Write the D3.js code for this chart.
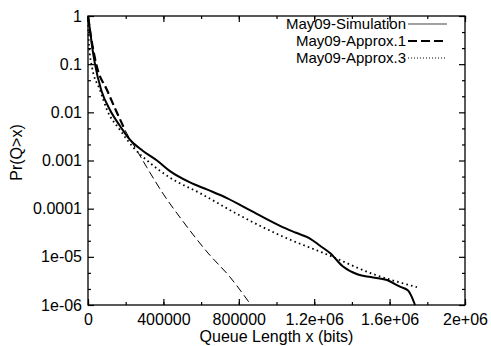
<!DOCTYPE html>
<html><head><meta charset="utf-8">
<script src="https://cdn.jsdelivr.net/npm/d3@7"></script>
<style>
body{margin:0;background:#fff;}
text{font-family:"Liberation Sans",Arial,sans-serif;fill:#000;}
</style></head>
<body><svg id="c" width="491" height="346"></svg>
<script>
// ---- data ----
const xTicks = [0, 400000, 800000, 1200000, 1600000, 2000000];
const xTickLabels = ["0", "400000", "800000", "1.2e+06", "1.6e+06", "2e+06"];
const yTicks = [1, 0.1, 0.01, 0.001, 0.0001, 1e-5, 1e-6];
const yTickLabels = ["1", "0.1", "0.01", "0.001", "0.0001", "1e-05", "1e-06"];
const seriesNames = ["May09-Simulation", "May09-Approx.1", "May09-Approx.3"];

const simX = [0, 5000, 10600, 22000, 37100, 70000, 116700, 170000, 222800, 290000, 366000, 435000, 541000, 637000, 737000, 859000, 1018600, 1100000, 1177700, 1230800, 1283800, 1352800, 1432000, 1500000, 1586000, 1655000, 1698000, 1735000];
const simP = [1, 0.76, 0.51, 0.23, 0.1, 0.029, 0.0112, 0.0052, 0.0027, 0.0016, 0.001, 6.0e-4, 3.5e-4, 2.45e-4, 1.66e-4, 9.3e-5, 4.4e-5, 3.2e-5, 2.4e-5, 1.7e-5, 1.2e-5, 6.3e-6, 4.3e-6, 3.8e-6, 3.3e-6, 2.4e-6, 2.0e-6, 1.0e-6];

const ap1X = [0, 21200, 47700, 100800, 153800, 196300, 260000, 313000, 400000, 498700, 636600, 753300, 864700];
const ap1P = [0.95, 0.275, 0.087, 0.029, 0.0098, 0.0043, 0.0016, 7.1e-4, 2.0e-4, 5.8e-5, 1.2e-5, 3.8e-6, 1.0e-6];

const ap3X = [0, 5300, 21200, 63700, 100800, 169800, 238700, 329000, 435000, 594000, 806000, 1018600, 1273000, 1512000, 1745000];
const ap3P = [0.83, 0.25, 0.087, 0.029, 0.0112, 0.0043, 0.0019, 8.9e-4, 4.4e-4, 2.1e-4, 7.2e-5, 2.8e-5, 1.1e-5, 4.4e-6, 2.35e-6];

// ---- layout ----
const L = 88, R = 465, T = 16, B = 305;
const svg = d3.select("#c");
const x = d3.scaleLinear().domain([0, 2000000]).range([L, R]);
const y = d3.scaleLog().domain([1e-6, 1]).range([B, T]);

const zip = (xs, ps) => xs.map((v, i) => ({x: v, p: ps[i]}));
const line = d3.line().x(d => x(d.x)).y(d => y(d.p)).curve(d3.curveMonotoneX);

// frame
svg.append("rect").attr("x", L).attr("y", T).attr("width", R - L).attr("height", B - T)
  .attr("fill", "none").attr("stroke", "#000").attr("stroke-width", 1.3);

// ticks via axes (inward, mirrored)
const xMinor = d3.range(0, 2000001, 200000);
const fmtX = (d) => xTickLabels[xTicks.indexOf(d)];
svg.append("g").attr("transform", `translate(0,${B})`)
  .call(d3.axisBottom(x).tickValues(xMinor).tickSizeInner(-3).tickSizeOuter(0).tickFormat(""))
  .call(g => g.select(".domain").remove());
svg.append("g").attr("transform", `translate(0,${B})`)
  .call(d3.axisBottom(x).tickValues(xTicks).tickSizeInner(-6).tickSizeOuter(0).tickPadding(9).tickFormat(fmtX))
  .call(g => g.select(".domain").remove())
  .call(g => g.selectAll("text").attr("font-size", 16).attr("fill", "#000"));
svg.append("g").attr("transform", `translate(0,${T})`)
  .call(d3.axisTop(x).tickValues(xMinor).tickSizeInner(-3).tickSizeOuter(0).tickFormat(""))
  .call(g => g.select(".domain").remove());
svg.append("g").attr("transform", `translate(0,${T})`)
  .call(d3.axisTop(x).tickValues(xTicks).tickSizeInner(-6).tickSizeOuter(0).tickFormat(""))
  .call(g => g.select(".domain").remove());

const yMinor = [];
for (let k = 0; k < 6; k++) { yMinor.push(Math.pow(10, -k - 1/3), Math.pow(10, -k - 2/3)); }
const fmtY = (d) => { const i = yTicks.findIndex(v => Math.abs(Math.log10(v) - Math.log10(d)) < 1e-6); return i >= 0 ? yTickLabels[i] : ""; };
svg.append("g").attr("transform", `translate(${L},0)`)
  .call(d3.axisLeft(y).tickValues(yMinor).tickSizeInner(-3).tickSizeOuter(0).tickFormat(""))
  .call(g => g.select(".domain").remove());
svg.append("g").attr("transform", `translate(${L},0)`)
  .call(d3.axisLeft(y).tickValues(yTicks).tickSizeInner(-6).tickSizeOuter(0).tickPadding(6).tickFormat(fmtY))
  .call(g => g.select(".domain").remove())
  .call(g => g.selectAll("text").attr("font-size", 16).attr("fill", "#000"));
svg.append("g").attr("transform", `translate(${R},0)`)
  .call(d3.axisRight(y).tickValues(yMinor).tickSizeInner(-3).tickSizeOuter(0).tickFormat(""))
  .call(g => g.select(".domain").remove());
svg.append("g").attr("transform", `translate(${R},0)`)
  .call(d3.axisRight(y).tickValues(yTicks).tickSizeInner(-6).tickSizeOuter(0).tickFormat(""))
  .call(g => g.select(".domain").remove());
svg.selectAll(".tick line").attr("stroke", "#000").attr("stroke-width", 1.2);

// axis titles
svg.append("text").attr("x", (L + R) / 2).attr("y", 342).attr("text-anchor", "middle")
  .attr("font-size", 16).text("Queue Length x (bits)");
svg.append("text").attr("transform", `translate(22,${(T + B) / 2 - 8}) rotate(-90)`)
  .attr("text-anchor", "middle").attr("font-size", 16).text("Pr(Q>x)");

// series
const plot = svg.append("g");
const sim = zip(simX, simP), ap1 = zip(ap1X, ap1P), ap3 = zip(ap3X, ap3P);
plot.append("path").datum(ap3).attr("d", line).attr("fill", "none").attr("stroke", "#000")
  .attr("stroke-width", 1.8).attr("stroke-dasharray", "1.6,3.2");
plot.append("path").datum(ap1).attr("d", line).attr("fill", "none").attr("stroke", "#000")
  .attr("stroke-width", 1).attr("stroke-dasharray", "8,4");
plot.append("path").datum(ap1.filter(d => d.x <= 196300)).attr("d", line).attr("fill", "none").attr("stroke", "#000")
  .attr("stroke-width", 2.2).attr("stroke-dasharray", "8,4");
plot.append("path").datum(sim).attr("d", line).attr("fill", "none").attr("stroke", "#000")
  .attr("stroke-width", 2);

// legend
const lg = svg.append("g");
const rowsY = [24, 41, 58];
const styles = [
  {w: 1.2, dash: null, col: "#444"},
  {w: 2.2, dash: "9,4", col: "#000"},
  {w: 1.2, dash: "1,2", col: "#000"}
];
seriesNames.forEach((n, i) => {
  lg.append("text").attr("x", 406).attr("y", rowsY[i]).attr("dy", "0.35em")
    .attr("text-anchor", "end").attr("font-size", 15).text(n);
  lg.append("line").attr("x1", 408).attr("x2", 447).attr("y1", rowsY[i]).attr("y2", rowsY[i])
    .attr("stroke", styles[i].col).attr("stroke-width", styles[i].w)
    .attr("stroke-dasharray", styles[i].dash);
});
</script></body></html>
